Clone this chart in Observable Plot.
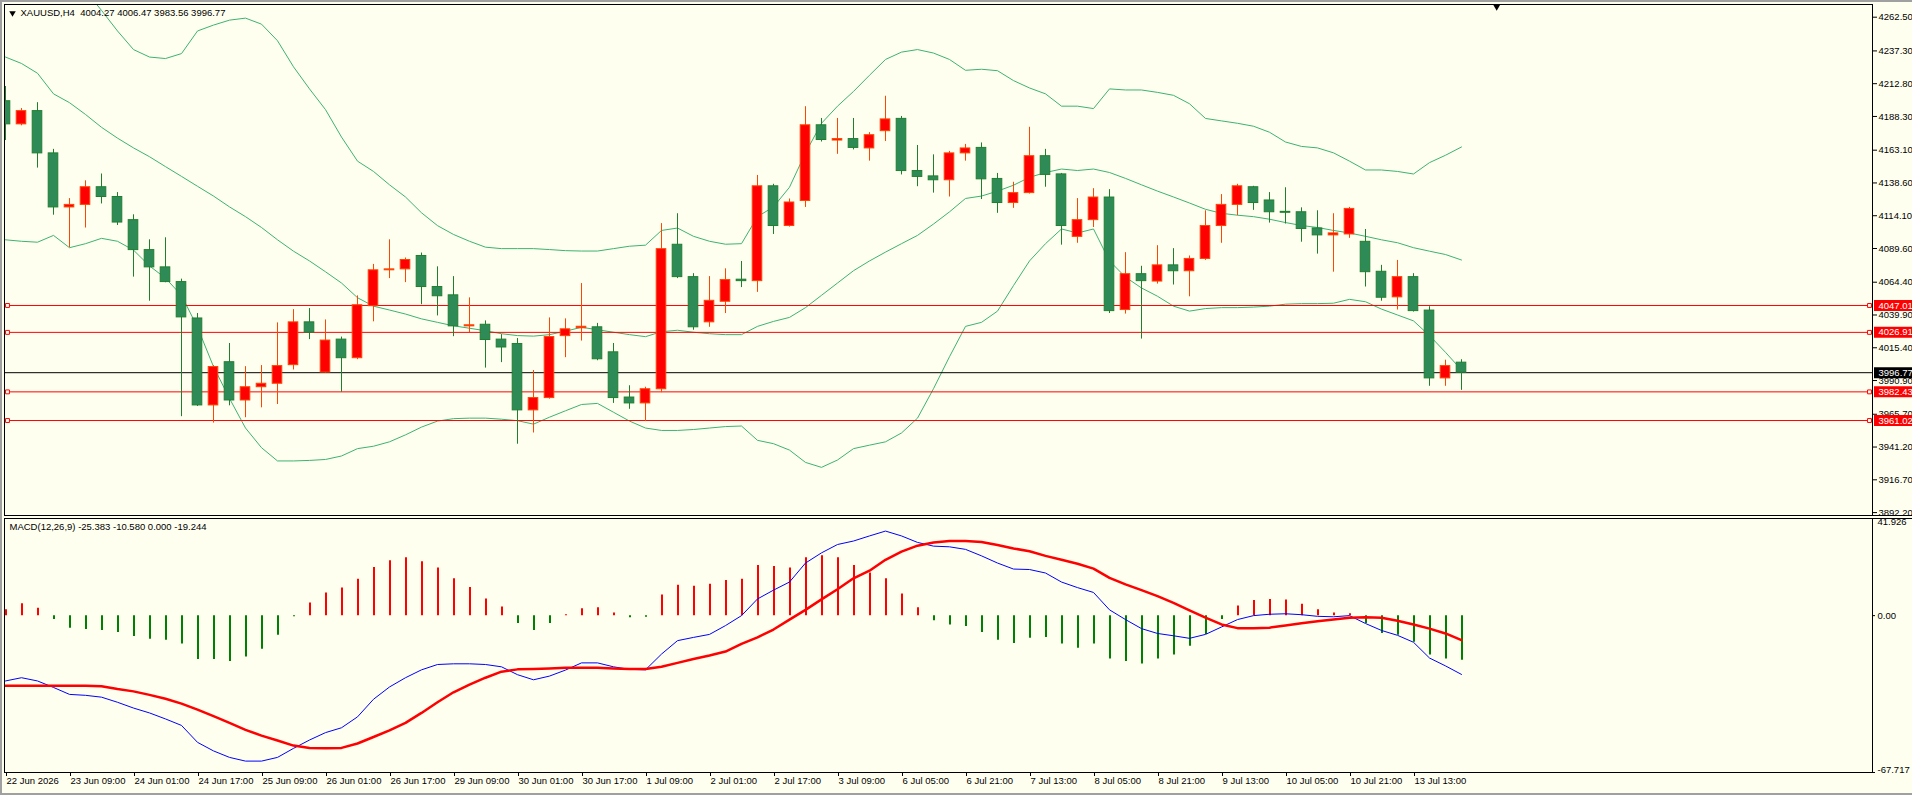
<!DOCTYPE html>
<html><head><meta charset="utf-8">
<script src="https://cdn.jsdelivr.net/npm/d3@7"></script>
<script src="https://cdn.jsdelivr.net/npm/@observablehq/plot@0.6"></script>
<style>
html,body{margin:0;padding:0;background:#fffff0;overflow:hidden}
#wrap{position:relative;width:1912px;height:795px;background:#fffff0;overflow:hidden}
#main,#macd{position:absolute;left:0}
#main{top:0;z-index:2}
#macd{top:509px;z-index:1}
.gray{position:absolute;background:#a0a0a0;z-index:3}
.sep{position:absolute;background:#000;height:1px;left:1872px;width:40px;z-index:3}
</style></head>
<body><div id="wrap">
<div id="main"></div><div id="macd"></div>
<div class="sep" style="top:515px"></div><div class="sep" style="top:518px"></div>
<div class="gray" style="left:0;top:0;width:1912px;height:2px"></div>
<div class="gray" style="left:0;top:0;width:2px;height:795px"></div>
<div class="gray" style="left:0;top:793px;width:1912px;height:2px"></div>
</div>
<script>
// ---- data (H4 bars, index 0 = first visible bar) ----
const open  = [4199.7,4182.4,4192.3,4160.7,4120.3,4122.2,4135.4,4128.1,4110.8,4088.4,4075.5,4064.5,4037.3,3972.3,4004.6,3976.0,3985.9,3988.5,4002.4,4034.4,3996.9,4021.5,4007.6,4046.5,4073.3,4074.0,4084.0,4060.8,4054.6,4031.4,4032.6,4021.5,4018.2,3968.6,3977.8,4024.1,4030.0,4030.7,4012.0,3978.2,3973.8,3984.4,4092.4,4068.2,4034.4,4049.8,4066.3,4065.2,4136.1,4106.4,4125.1,4181.7,4170.3,4171.4,4164.4,4177.3,4186.5,4147.5,4143.5,4140.6,4160.7,4164.8,4141.6,4123.6,4131.0,4158.6,4145.0,4098.3,4110.8,4127.7,4043.6,4070.4,4064.9,4077.0,4072.6,4081.8,4106.4,4122.2,4135.4,4125.5,4117.0,4116.7,4104.6,4099.4,4100.1,4094.6,4072.2,4053.1,4068.2,4043.2,3992.5,4004.27];
const high  = [4210.7,4194.2,4198.6,4163.7,4126.9,4140.2,4145.3,4131.4,4114.8,4096.1,4097.6,4066.7,4041.0,4002.1,4018.6,4001.3,4002.1,4034.0,4043.9,4044.7,4036.2,4023.4,4054.2,4077.7,4096.1,4082.5,4086.2,4075.9,4068.6,4052.7,4035.5,4025.2,4022.3,3998.4,4037.7,4037.0,4063.4,4033.6,4018.6,3987.0,3985.9,4108.2,4115.6,4070.8,4068.6,4074.4,4079.9,4144.2,4137.6,4126.6,4195.6,4186.8,4186.8,4186.8,4176.2,4203.4,4188.3,4166.6,4159.6,4162.2,4167.4,4168.5,4145.7,4139.1,4180.2,4163.7,4145.7,4126.9,4134.3,4133.6,4086.5,4076.3,4091.7,4089.5,4084.0,4117.8,4129.9,4137.6,4136.1,4131.4,4135.0,4120.0,4117.8,4115.6,4120.3,4103.8,4077.0,4080.7,4070.8,4046.1,4006.1,4006.47];
const low   = [4170.3,4181.3,4149.7,4114.5,4090.2,4104.9,4122.9,4106.8,4068.2,4050.2,4064.0,3963.9,3971.5,3959.1,3972.0,3963.1,3970.5,3973.0,3998.8,4021.5,3996.5,3982.2,4006.5,4034.8,4067.1,4064.1,4047.6,4039.2,4023.7,4026.7,4000.2,4004.3,3943.3,3951.7,3977.0,4008.0,4020.4,4005.7,3973.8,3969.4,3960.2,3981.8,4067.1,4028.5,4030.7,4041.0,4060.4,4056.8,4100.1,4105.6,4120.3,4169.2,4160.0,4163.3,4154.9,4169.6,4144.6,4135.8,4131.0,4128.1,4154.9,4126.2,4115.9,4119.6,4130.3,4135.4,4092.1,4093.5,4105.3,4041.0,4040.6,4021.9,4063.0,4062.3,4053.5,4080.7,4093.5,4114.1,4118.1,4108.6,4107.9,4094.3,4085.4,4071.9,4097.2,4060.8,4050.2,4043.6,4042.1,3986.6,3986.6,3983.56];
const close = [4182.4,4192.3,4160.7,4120.3,4122.2,4135.4,4128.1,4109.0,4088.4,4075.5,4064.5,4038.1,3972.3,4001.0,3976.0,3985.9,3988.5,4001.7,4034.4,4026.7,4020.8,4007.6,4047.2,4073.3,4074.0,4081.0,4060.8,4053.9,4031.4,4032.2,4021.2,4015.6,3968.6,3977.8,4023.4,4029.2,4031.1,4006.8,3977.8,3973.8,3984.4,4089.1,4068.2,4030.7,4050.5,4066.0,4065.2,4136.1,4106.4,4124.0,4181.7,4170.7,4171.4,4164.8,4174.3,4186.1,4147.5,4143.1,4140.6,4160.7,4164.4,4141.3,4123.6,4131.0,4158.6,4144.6,4106.4,4110.8,4127.7,4042.8,4070.4,4065.2,4077.0,4072.6,4081.8,4106.4,4122.2,4136.1,4123.6,4116.7,4116.3,4104.2,4099.4,4100.9,4119.2,4071.9,4052.8,4068.2,4042.8,3992.5,4001.7,3996.77];

const bbUpper  = [4322,4318,4312,4305,4295,4282.3,4267.6,4252.2,4238.3,4232.7,4231.6,4235.3,4252.2,4256.6,4260.3,4261.8,4257.3,4244.9,4225.4,4208.9,4193.4,4172.9,4154.9,4147.2,4137.2,4128.1,4116.3,4106.7,4100.1,4095.0,4090.6,4089.5,4089.5,4089.5,4088.8,4088.0,4087.7,4087.7,4089.5,4091.3,4092.1,4103.1,4104.9,4098.7,4095.0,4092.8,4093.2,4113.4,4120.7,4135.4,4161.1,4183.2,4196.0,4207.0,4219.1,4230.9,4236.4,4238.3,4235.7,4230.9,4222.8,4223.6,4222.5,4215.1,4209.6,4205.2,4196.0,4196.0,4194.2,4208.9,4208.1,4208.1,4206.3,4204.1,4197.8,4186.8,4185.0,4183.2,4181.0,4176.5,4169.2,4165.9,4164.8,4161.1,4154.9,4148.3,4148.3,4147.2,4145.3,4153.8,4159.3,4165.5];
const bbMiddle = [4232.7,4227.9,4220.6,4205.2,4198.6,4189.8,4180.2,4172.1,4164.8,4158.2,4150.8,4143.5,4136.1,4128.8,4120.7,4113.4,4105.3,4096.1,4087.6,4080.3,4072.2,4063.8,4052.8,4046.5,4043.6,4040.6,4037.0,4034.4,4031.8,4030.0,4028.1,4025.9,4024.5,4024.1,4025.2,4027.8,4030.7,4028.9,4027.0,4025.2,4023.7,4027.4,4028.5,4027.0,4025.9,4025.2,4025.2,4031.4,4035.1,4038.1,4045.4,4054.6,4063.8,4073.0,4080.3,4086.9,4093.2,4099.4,4107.9,4117.0,4127.0,4128.8,4132.5,4136.9,4142.8,4146.4,4149.0,4147.9,4149.0,4146.4,4142.0,4137.2,4132.5,4128.1,4123.6,4118.9,4115.9,4114.5,4113.4,4111.5,4109.0,4106.8,4105.3,4103.1,4101.2,4098.7,4096.1,4093.9,4090.2,4087.6,4085.1,4081.0];
const bbLower  = [4096.1,4095.0,4094.3,4099.4,4090.2,4093.2,4097.2,4095.0,4088.4,4076.6,4067.4,4054.6,4030.7,4001.3,3977.5,3955.4,3940.7,3930.8,3930.8,3931.2,3931.9,3934.5,3940.0,3941.8,3945.1,3950.3,3956.1,3960.6,3962.4,3962.8,3962.8,3962.0,3960.9,3958.3,3963.5,3968.3,3973.0,3973.8,3967.2,3960.6,3955.4,3953.6,3953.6,3954.3,3955.4,3956.5,3956.9,3946.2,3943.7,3938.9,3929.7,3926.0,3931.5,3940.0,3942.6,3945.1,3951.7,3962.8,3984.8,4008.7,4031.4,4034.4,4042.8,4061.9,4080.3,4093.2,4104.2,4101.2,4104.2,4080.3,4068.2,4060.1,4053.9,4046.5,4042.8,4044.7,4045.4,4045.4,4045.8,4046.5,4048.0,4048.4,4048.4,4048.7,4051.6,4049.8,4044.3,4039.9,4035.5,4024.5,4012.0,3998.8];

const macdHist   = [2.5,5.1,3.2,-1.7,-5.4,-6.0,-6.4,-7.3,-9.0,-10.2,-10.6,-12.3,-18.9,-18.9,-19.8,-17.9,-14.5,-8.5,-0.5,5.5,9.8,11.9,15.7,20.8,23.7,25.0,23.3,20.6,15.9,12.1,7.2,3.7,-3.4,-6.4,-3.4,0.4,3.0,3.4,1.1,-0.9,-0.7,8.9,13.1,12.7,13.5,15.2,15.7,21.6,21.2,20.6,25.0,25.8,25.0,21.6,18.4,15.9,9.3,3.4,-2.2,-4.1,-4.7,-7.3,-10.6,-12.0,-9.8,-9.4,-12.3,-14.1,-12.3,-18.7,-19.8,-20.9,-18.7,-17.0,-13.2,-8.1,-1.7,4.2,6.5,7.0,6.7,4.9,2.5,1.1,0.8,-3.4,-7.7,-8.5,-11.5,-17.0,-18.7,-19.244];
const macdLine   = [-28.2,-26.8,-28.2,-31.0,-34.0,-34.4,-35.2,-37.4,-39.9,-42.0,-44.6,-47.4,-54.7,-58.4,-61.2,-62.8,-62.8,-61.2,-57.3,-53.7,-50.5,-48.4,-43.7,-36.1,-30.8,-26.8,-23.4,-21.1,-20.8,-20.8,-21.1,-22.1,-25.5,-27.7,-26.1,-23.5,-20.4,-20.4,-22.1,-23.2,-23.4,-16.6,-10.8,-9.4,-8.1,-4.3,0.0,7.2,11.0,14.5,22.7,27.1,30.7,32.2,34.4,36.5,34.4,31.6,30.0,29.7,28.6,25.8,22.7,20.1,19.9,18.4,14.5,12.1,10.0,2.5,-1.7,-5.6,-7.7,-8.7,-9.8,-8.1,-4.9,-1.7,0.0,0.6,0.8,0.4,-0.3,-0.5,0.0,-3.4,-6.4,-8.5,-11.5,-18.3,-21.7,-25.383];
const macdSignal = [-30.3,-30.3,-30.3,-30.3,-30.3,-30.3,-30.5,-31.7,-32.7,-34.2,-35.9,-38.0,-40.6,-43.4,-46.3,-49.3,-51.8,-53.9,-56.1,-57.1,-57.3,-57.1,-55.2,-52.4,-49.5,-46.3,-42.0,-37.4,-33.1,-29.8,-26.8,-24.2,-23.2,-23.0,-22.8,-22.5,-22.5,-22.5,-22.8,-23.0,-23.0,-22.1,-20.4,-18.7,-17.2,-15.5,-12.2,-9.4,-6.0,-1.7,2.5,7.0,11.4,16.1,19.4,24.1,27.6,30.2,31.6,32.2,32.2,31.8,30.5,29.0,27.8,25.8,24.1,22.4,20.3,16.3,13.5,11.0,8.4,5.5,2.3,-0.9,-3.8,-5.4,-5.4,-5.2,-4.3,-3.3,-2.4,-1.7,-0.9,-0.7,-0.9,-2.2,-3.8,-5.6,-7.7,-10.580];

const priceTicks = [4262.50,4237.30,4212.80,4188.30,4163.10,4138.60,4114.10,4089.60,4064.40,4039.90,4015.40,3990.90,3965.70,3941.20,3916.70,3892.20];
const levelPrices = [4047.01, 4026.91, 3982.43, 3961.02];
const bidPrice = [3996.77];
const macdTickTop = [41.926], macdTickZero = [0], macdTickBottom = [-67.717];
const xTickBars = [0,4,8,12,16,20,24,28,32,36,40,44,48,52,56,60,64,68,72,76,80,84,88];
const xTickLabels = ["22 Jun 2026","23 Jun 09:00","24 Jun 01:00","24 Jun 17:00","25 Jun 09:00","26 Jun 01:00","26 Jun 17:00","29 Jun 09:00","30 Jun 01:00","30 Jun 17:00","1 Jul 09:00","2 Jul 01:00","2 Jul 17:00","3 Jul 09:00","6 Jul 05:00","6 Jul 21:00","7 Jul 13:00","8 Jul 05:00","8 Jul 21:00","9 Jul 13:00","10 Jul 05:00","10 Jul 21:00","13 Jul 13:00"];
const chartTitle = "XAUUSD,H4\u00a0 4004.27 4006.47 3983.56 3996.77";
const macdTitle = "MACD(12,26,9) -25.383 -10.580 0.000 -19.244";
const chartShiftBar = [93.2];

// ---- build ----
const N = open.length;
const idx = d3.range(N);
const bars = idx.map(i => ({i, o: open[i], h: high[i], l: low[i], c: close[i], up: close[i] > open[i]}));
const BULL_FILL = "#ff0000", BULL_LINE = "#ff4500", BEAR_FILL = "#2e8b57", BEAR_LINE = "#1f7f2f";
const BG = "#fffff0";
const FONT = "'Liberation Sans', Arial, sans-serif";
const xScale = {domain: [0, N - 1], range: [5, 5 + 16 * (N - 1)]};
const boxSymbol = {draw(ctx) { ctx.moveTo(-19.5, -5.5); ctx.lineTo(19.5, -5.5); ctx.lineTo(19.5, 5.5); ctx.lineTo(-19.5, 5.5); ctx.closePath(); }};
const labelRows = levelPrices.map(v => ({v, bg: "#ff0000"})).concat(bidPrice.map(v => ({v, bg: "#000000"})));
const labelMap = new Map(xTickBars.map((b, k) => [b, xTickLabels[k]]));

const main = Plot.plot({
  width: 1912, height: 516,
  marginTop: 4, marginBottom: 1, marginLeft: 4, marginRight: 40,
  style: {background: "transparent", fontFamily: FONT, fontSize: "9.5px", color: "black", overflow: "visible"},
  x: {...xScale, axis: null},
  y: {domain: [3890.02, 4271.99]},
  marks: [
    Plot.line(idx, {x: i => i, y: i => bbUpper[i], stroke: "#3cb371", strokeWidth: 1, clip: true}),
    Plot.line(idx, {x: i => i, y: i => bbMiddle[i], stroke: "#3cb371", strokeWidth: 1, clip: true}),
    Plot.line(idx, {x: i => i, y: i => bbLower[i], stroke: "#3cb371", strokeWidth: 1, clip: true}),
    Plot.ruleY(levelPrices, {stroke: "#ff0000", strokeWidth: 1}),
    Plot.ruleY(bidPrice, {stroke: "#000000", strokeWidth: 1}),
    Plot.ruleX(bars, {x: "i", y1: "l", y2: "h", stroke: d => d.up ? BULL_LINE : BEAR_LINE, strokeWidth: 1, clip: true}),
    Plot.rect(bars, {x1: d => d.i - 0.3, x2: d => d.i + 0.3, y1: "o", y2: "c", fill: d => d.up ? BULL_FILL : BEAR_FILL, stroke: d => d.up ? BULL_LINE : BEAR_LINE, strokeWidth: 1, clip: true}),
    Plot.dot(levelPrices, {y: d => d, frameAnchor: "left", dx: 3, symbol: "square", r: 2.2, stroke: "#ff0000", fill: BG, strokeWidth: 1}),
    Plot.dot(levelPrices, {y: d => d, frameAnchor: "right", dx: -3, symbol: "square", r: 2.2, stroke: "#ff0000", fill: BG, strokeWidth: 1}),
    Plot.frame({stroke: "black"}),
    Plot.axisY(priceTicks, {anchor: "right", tickSize: 4, tickPadding: 2, tickFormat: d => d.toFixed(2), fontSize: 9.5}),
    Plot.dot(labelRows, {y: "v", frameAnchor: "right", dx: 21, symbol: boxSymbol, fill: "bg", stroke: null}),
    Plot.text(labelRows, {y: "v", frameAnchor: "right", dx: 6, text: d => d.v.toFixed(2), fill: "white", textAnchor: "start", fontSize: 9.5}),
    Plot.dot([0], {frameAnchor: "top-left", dx: 8, dy: 8.5, symbol: "triangle", r: 2.4, rotate: 180, fill: "black", stroke: null}),
    Plot.text([chartTitle], {frameAnchor: "top-left", dx: 16, dy: 8.7, text: d => d, textAnchor: "start", lineAnchor: "middle", fill: "black", fontSize: 9.5}),
    Plot.dot(chartShiftBar, {x: d => d, frameAnchor: "top", dy: 2, symbol: "triangle", r: 2.8, rotate: 180, fill: "black", stroke: null})
  ]
});
document.getElementById("main").appendChild(main);

const macd = Plot.plot({
  width: 1912, height: 286,
  marginTop: 9, marginBottom: 23, marginLeft: 4, marginRight: 40,
  style: {background: "transparent", fontFamily: FONT, fontSize: "9.5px", color: "black"},
  x: {...xScale},
  y: {domain: [-67.717, 41.926]},
  marks: [
    Plot.ruleX(idx, {x: i => i, y1: 0, y2: i => macdHist[i], stroke: i => macdHist[i] >= 0 ? "#ff0000" : "#008000", strokeWidth: 2, dx: 0.5, clip: true}),
    Plot.line(idx, {x: i => i, y: i => macdLine[i], stroke: "#0000ff", strokeWidth: 1, clip: true}),
    Plot.line(idx, {x: i => i, y: i => macdSignal[i], stroke: "#ff0000", strokeWidth: 2.5, clip: true}),
    Plot.frame({stroke: "black"}),
    Plot.axisY(macdTickTop, {anchor: "right", tickSize: 2, tickPadding: 3, tickFormat: d => d.toFixed(3), lineAnchor: "top", fontSize: 9.5}),
    Plot.axisY(macdTickZero, {anchor: "right", tickSize: 2, tickPadding: 3, tickFormat: d => d.toFixed(2), fontSize: 9.5}),
    Plot.axisY(macdTickBottom, {anchor: "right", tickSize: 2, tickPadding: 3, tickFormat: d => d.toFixed(3), lineAnchor: "bottom", fontSize: 9.5}),
    Plot.axisX(xTickBars, {anchor: "bottom", tickSize: 4, tickPadding: 1, textAnchor: "start", dx: 1, tickFormat: d => labelMap.get(d), fontSize: 9.5}),
    Plot.text([macdTitle], {frameAnchor: "top-left", dx: 5, dy: 8.3, text: d => d, textAnchor: "start", lineAnchor: "middle", fill: "black", fontSize: 9.5})
  ]
});
document.getElementById("macd").appendChild(macd);
</script>
</body></html>
